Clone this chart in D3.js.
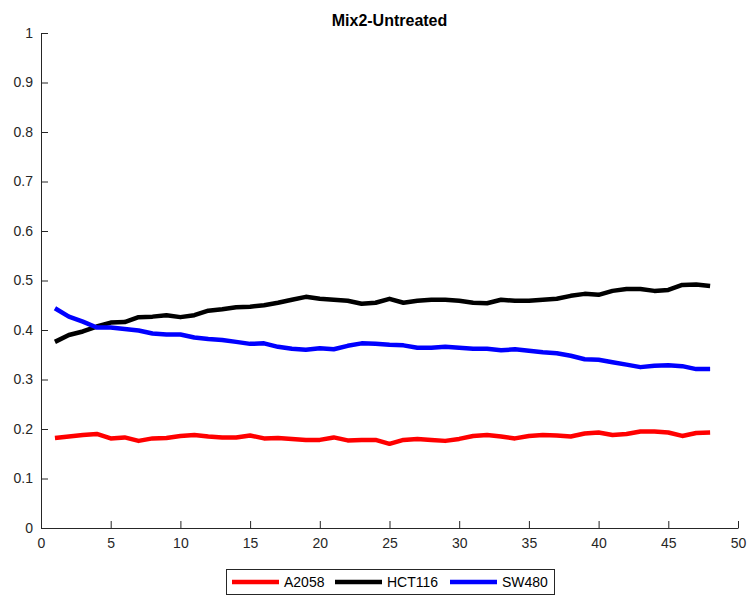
<!DOCTYPE html>
<html>
<head>
<meta charset="utf-8">
<script src="https://cdn.jsdelivr.net/npm/d3@7"></script>
<style>
  html, body { margin: 0; padding: 0; background: #fff; }
  svg { display: block; font-family: "Liberation Sans", Arial, Helvetica, sans-serif; }
</style>
</head>
<body>
<svg id="chart" width="749" height="597"></svg>
<script>
// Time points (1..48)
const timePoints = d3.range(1, 49);

// Fraction of each cell line over time
const a2058 = [0.182,0.185,0.188,0.190,0.181,0.183,0.176,0.181,0.182,0.186,0.188,0.185,0.183,0.183,0.187,0.181,
               0.182,0.180,0.178,0.178,0.183,0.177,0.178,0.178,0.170,0.178,0.180,0.178,0.176,0.180,0.186,0.188,
               0.185,0.181,0.186,0.188,0.187,0.185,0.191,0.193,0.188,0.190,0.195,0.195,0.193,0.186,0.192,0.193];
const hct116 = [0.376,0.390,0.397,0.407,0.415,0.416,0.426,0.427,0.430,0.426,0.430,0.439,0.442,0.446,0.447,0.450,
                0.455,0.461,0.467,0.463,0.461,0.459,0.453,0.455,0.463,0.455,0.459,0.461,0.461,0.459,0.455,0.454,
                0.461,0.459,0.459,0.461,0.463,0.469,0.473,0.471,0.479,0.483,0.483,0.479,0.481,0.491,0.492,0.489];
const sw480  = [0.444,0.427,0.417,0.405,0.405,0.402,0.399,0.393,0.391,0.391,0.385,0.382,0.380,0.376,0.372,0.373,
                0.366,0.362,0.360,0.363,0.361,0.368,0.373,0.372,0.370,0.369,0.364,0.364,0.366,0.364,0.362,0.362,
                0.359,0.361,0.358,0.355,0.353,0.348,0.341,0.340,0.335,0.330,0.325,0.328,0.329,0.327,0.321,0.321];

const seriesNames = ["A2058", "HCT116", "SW480"];
const seriesColors = ["#ff0000", "#000000", "#0000ff"];
const seriesValues = [a2058, hct116, sw480];

const xTicks = [0, 5, 10, 15, 20, 25, 30, 35, 40, 45, 50];
const yTicks = [0, 0.1, 0.2, 0.3, 0.4, 0.5, 0.6, 0.7, 0.8, 0.9, 1];
const titleText = "Mix2-Untreated";

const svg = d3.select("#chart");
const margin = { left: 41, right: 11, top: 33, bottom: 69 };
const W = 749, H = 597;

const x = d3.scaleLinear().domain([0, 50]).range([margin.left, W - margin.right]);
const y = d3.scaleLinear().domain([0, 1]).range([H - margin.bottom, margin.top]);

const axisColor = "#262626";

// Axes (ticks pointing inward)
const xAxis = svg.append("g")
  .attr("transform", `translate(0,${y(0)})`)
  .call(d3.axisBottom(x).tickValues(xTicks).tickFormat(d3.format("d")).tickSizeInner(-7).tickSizeOuter(0).tickPadding(10));
const yAxis = svg.append("g")
  .attr("transform", `translate(${x(0)},0)`)
  .call(d3.axisLeft(y).tickValues(yTicks).tickFormat(d => d === 0 || d === 1 ? d3.format("d")(d) : d3.format(".1f")(d)).tickSizeInner(-7).tickSizeOuter(0).tickPadding(8));

[xAxis, yAxis].forEach(g => {
  g.select(".domain").attr("stroke", axisColor).attr("stroke-width", 1);
  g.selectAll(".tick line").attr("stroke", axisColor).attr("stroke-width", 1);
  g.selectAll(".tick text").attr("fill", axisColor).attr("font-size", 14)
    .attr("font-family", "'Liberation Sans', Arial, Helvetica, sans-serif");
});

// Lines
const line = d3.line().x((d, i) => x(timePoints[i])).y(d => y(d));
seriesValues.forEach((vals, k) => {
  svg.append("path")
    .datum(vals)
    .attr("fill", "none")
    .attr("stroke", seriesColors[k])
    .attr("stroke-width", 4.5)
    .attr("stroke-linejoin", "round")
    .attr("d", line);
});

// Title
svg.append("text")
  .attr("x", (x(0) + x(50)) / 2)
  .attr("y", 26)
  .attr("text-anchor", "middle")
  .attr("font-size", 16)
  .attr("font-weight", "bold")
  .attr("fill", "#000")
  .text(titleText);

// Legend
const legend = svg.append("g");
legend.append("rect")
  .attr("x", 226.5).attr("y", 569.5).attr("width", 328).attr("height", 25)
  .attr("fill", "#fff").attr("stroke", axisColor).attr("stroke-width", 1);
const legendX = [232, 335, 450];
seriesNames.forEach((name, k) => {
  legend.append("line")
    .attr("x1", legendX[k]).attr("x2", legendX[k] + 47)
    .attr("y1", 582).attr("y2", 582)
    .attr("stroke", seriesColors[k]).attr("stroke-width", 4.5);
  legend.append("text")
    .attr("x", legendX[k] + 52).attr("y", 587)
    .attr("font-size", 14).attr("fill", "#000")
    .text(name);
});
</script>
</body>
</html>
